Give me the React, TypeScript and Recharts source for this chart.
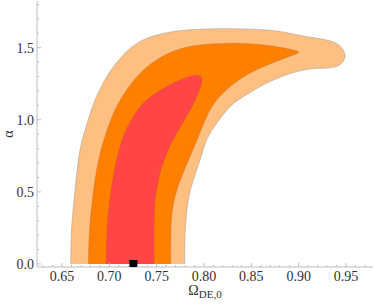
import { ComposedChart, Scatter, XAxis, YAxis, Label } from 'recharts';

// axis ticks (minor every 0.01 / 0.1, labels on the majors)
const xTicks = [
  0.63, 0.64, 0.65, 0.66, 0.67, 0.68, 0.69, 0.7, 0.71, 0.72, 0.73, 0.74, 0.75, 0.76, 0.77, 0.78, 0.79,
  0.8, 0.81, 0.82, 0.83, 0.84, 0.85, 0.86, 0.87, 0.88, 0.89, 0.9, 0.91, 0.92, 0.93, 0.94, 0.95, 0.96, 0.97,
];
const xLabels = [0.65, 0.7, 0.75, 0.8, 0.85, 0.9, 0.95];
const yTicks = [0, 0.1, 0.2, 0.3, 0.4, 0.5, 0.6, 0.7, 0.8, 0.9, 1, 1.1, 1.2, 1.3, 1.4, 1.5, 1.6, 1.7, 1.8];
const yLabels = [0, 0.5, 1, 1.5];

// confidence contours, traced clockwise from the bottom-left corner
const outerRegion = [
  { x: 0.6592, y: 0 }, { x: 0.6599, y: 0.213 }, { x: 0.662, y: 0.397 }, { x: 0.6648, y: 0.583 },
  { x: 0.669, y: 0.791 }, { x: 0.6754, y: 0.952 }, { x: 0.6849, y: 1.137 }, { x: 0.6972, y: 1.299 },
  { x: 0.7113, y: 1.426 }, { x: 0.7289, y: 1.53 }, { x: 0.75, y: 1.588 }, { x: 0.7746, y: 1.618 },
  { x: 0.8028, y: 1.63 }, { x: 0.831, y: 1.632 }, { x: 0.8662, y: 1.623 }, { x: 0.8908, y: 1.6 },
  { x: 0.9084, y: 1.577 }, { x: 0.926, y: 1.558 }, { x: 0.9401, y: 1.53 }, { x: 0.9471, y: 1.484 },
  { x: 0.9489, y: 1.438 }, { x: 0.9454, y: 1.392 }, { x: 0.9366, y: 1.364 }, { x: 0.9225, y: 1.357 },
  { x: 0.912, y: 1.352 }, { x: 0.8979, y: 1.334 }, { x: 0.8803, y: 1.295 }, { x: 0.8592, y: 1.23 },
  { x: 0.8415, y: 1.16 }, { x: 0.8275, y: 1.091 }, { x: 0.8134, y: 0.976 }, { x: 0.8028, y: 0.86 },
  { x: 0.7958, y: 0.721 }, { x: 0.7887, y: 0.583 }, { x: 0.7834, y: 0.444 }, { x: 0.781, y: 0.305 },
  { x: 0.7799, y: 0.166 }, { x: 0.7796, y: 0 },
];
const middleRegion = [
  { x: 0.6778, y: 0 }, { x: 0.6789, y: 0.213 }, { x: 0.6813, y: 0.397 }, { x: 0.6849, y: 0.583 },
  { x: 0.6894, y: 0.744 }, { x: 0.6965, y: 0.906 }, { x: 0.706, y: 1.068 }, { x: 0.7183, y: 1.207 },
  { x: 0.7324, y: 1.322 }, { x: 0.75, y: 1.415 }, { x: 0.7711, y: 1.484 }, { x: 0.7958, y: 1.519 },
  { x: 0.8239, y: 1.53 }, { x: 0.8521, y: 1.526 }, { x: 0.8768, y: 1.507 }, { x: 0.8908, y: 1.489 },
  { x: 0.8996, y: 1.472 }, { x: 0.8943, y: 1.449 }, { x: 0.8803, y: 1.415 }, { x: 0.8626, y: 1.368 },
  { x: 0.8451, y: 1.311 }, { x: 0.8275, y: 1.23 }, { x: 0.8134, y: 1.137 }, { x: 0.8028, y: 1.022 },
  { x: 0.794, y: 0.883 }, { x: 0.7852, y: 0.744 }, { x: 0.7764, y: 0.606 }, { x: 0.7694, y: 0.467 },
  { x: 0.7658, y: 0.328 }, { x: 0.7648, y: 0.166 }, { x: 0.7648, y: 0 },
];
const innerRegion = [
  { x: 0.6965, y: 0 }, { x: 0.6972, y: 0.166 }, { x: 0.6989, y: 0.351 }, { x: 0.7025, y: 0.536 },
  { x: 0.7077, y: 0.721 }, { x: 0.7148, y: 0.883 }, { x: 0.7253, y: 1.022 }, { x: 0.7394, y: 1.137 },
  { x: 0.757, y: 1.218 }, { x: 0.7746, y: 1.276 }, { x: 0.787, y: 1.304 }, { x: 0.794, y: 1.308 },
  { x: 0.7975, y: 1.288 }, { x: 0.7968, y: 1.241 }, { x: 0.7922, y: 1.16 }, { x: 0.7834, y: 1.045 },
  { x: 0.7711, y: 0.906 }, { x: 0.7606, y: 0.767 }, { x: 0.7535, y: 0.629 }, { x: 0.7493, y: 0.49 },
  { x: 0.7475, y: 0.351 }, { x: 0.7472, y: 0.166 }, { x: 0.7472, y: 0 },
];
const bestFit = [{ x: 0.7255, y: 0 }];

const frameColor = '#bdbdbd';
const textColor = '#333';
const font = '"Liberation Serif", "DejaVu Serif", serif';

const isLabel = (v: number, list: number[]) => list.some((l) => Math.abs(l - v) < 1e-9);

// custom tick: inward tick mark (longer on labelled values), optional label
function frameTick(side: 'bottom' | 'top' | 'left' | 'right', labels: number[], showText: boolean) {
  return (props: any) => {
    const { x, y, payload } = props;
    const major = isLabel(payload.value, labels);
    const len = major ? 4 : 2;
    let x2 = x;
    let y2 = y;
    if (side === 'bottom') y2 = y - len;
    if (side === 'top') y2 = y + len;
    if (side === 'left') x2 = x + len;
    if (side === 'right') x2 = x - len;
    return (
      <g>
        <line x1={x} y1={y} x2={x2} y2={y2} stroke={frameColor} strokeWidth={1} />
        {showText && major && side === 'bottom' && (
          <text x={x} y={y + 4} dy="0.71em" textAnchor="middle" fill={textColor} fontSize={14} fontFamily={font}>
            {payload.value.toFixed(2)}
          </text>
        )}
        {showText && major && side === 'left' && (
          <text x={x - 3} y={y} dy="0.35em" textAnchor="end" fill={textColor} fontSize={14} fontFamily={font}>
            {payload.value.toFixed(1)}
          </text>
        )}
      </g>
    );
  };
}

const hidden = () => <g />;

export default function App() {
  const xDomain = [0.6236, 0.9785];
  const yDomain = [-0.0208, 1.824];
  return (
    <div style={{ position: 'absolute', left: 0, top: 0 }}>
      <ComposedChart width={374} height={304} margin={{ top: 1, right: 1, bottom: 0, left: 0 }}>
        <XAxis
          xAxisId={0}
          dataKey="x"
          type="number"
          domain={xDomain}
          allowDataOverflow
          ticks={xTicks}
          interval={0}
          height={37}
          stroke={frameColor}
          tickLine={false}
          tickSize={0}
          tickMargin={0}
          tick={frameTick('bottom', xLabels, true)}
        >
          <Label
            content={(p: any) => {
              const vb = p.viewBox;
              return (
                <text x={vb.x + vb.width / 2} y={vb.y + 28} textAnchor="middle" fill={textColor} fontFamily={font} fontSize={14}>
                  Ω
                  <tspan dy={3} fontSize={11}>DE,0</tspan>
                </text>
              );
            }}
          />
        </XAxis>
        <XAxis
          xAxisId="top"
          orientation="top"
          type="number"
          domain={xDomain}
          allowDataOverflow
          ticks={xTicks}
          interval={0}
          height={0}
          stroke={frameColor}
          tickLine={false}
          tickSize={0}
          tickMargin={0}
          tick={frameTick('top', xLabels, false)}
        />
        <YAxis
          yAxisId={0}
          dataKey="y"
          type="number"
          domain={yDomain}
          allowDataOverflow
          ticks={yTicks}
          interval={0}
          width={37}
          stroke={frameColor}
          tickLine={false}
          tickSize={0}
          tickMargin={0}
          tick={frameTick('left', yLabels, true)}
        >
          <Label
            content={(p: any) => {
              const vb = p.viewBox;
              const cx = vb.x + 8;
              const cy = vb.y + vb.height / 2;
              return (
                <text
                  x={cx}
                  y={cy}
                  dy="0.35em"
                  textAnchor="middle"
                  transform={`rotate(-90, ${cx}, ${cy})`}
                  fill={textColor}
                  fontFamily={font}
                  fontSize={14}
                >
                  α
                </text>
              );
            }}
          />
        </YAxis>
        <YAxis
          yAxisId="right"
          orientation="right"
          type="number"
          domain={yDomain}
          allowDataOverflow
          ticks={yTicks}
          interval={0}
          width={0}
          stroke={frameColor}
          tickLine={false}
          tickSize={0}
          tickMargin={0}
          tick={frameTick('right', yLabels, false)}
        />
        <Scatter
          data={outerRegion}
          shape={hidden}
          line={{ fill: '#ffbf80', stroke: '#9a9a9a', strokeWidth: 0.7, strokeOpacity: 0.7 }}
          lineJointType="natural"
          isAnimationActive={false}
        />
        <Scatter
          data={middleRegion}
          shape={hidden}
          line={{ fill: '#ff8000', stroke: '#b06a30', strokeWidth: 0.6, strokeOpacity: 0.6 }}
          lineJointType="natural"
          isAnimationActive={false}
        />
        <Scatter
          data={innerRegion}
          shape={hidden}
          line={{ fill: '#ff4545', stroke: '#c05030', strokeWidth: 0.6, strokeOpacity: 0.6 }}
          lineJointType="natural"
          isAnimationActive={false}
        />
        <Scatter data={bestFit} shape="square" fill="#000" isAnimationActive={false} />
      </ComposedChart>
    </div>
  );
}
